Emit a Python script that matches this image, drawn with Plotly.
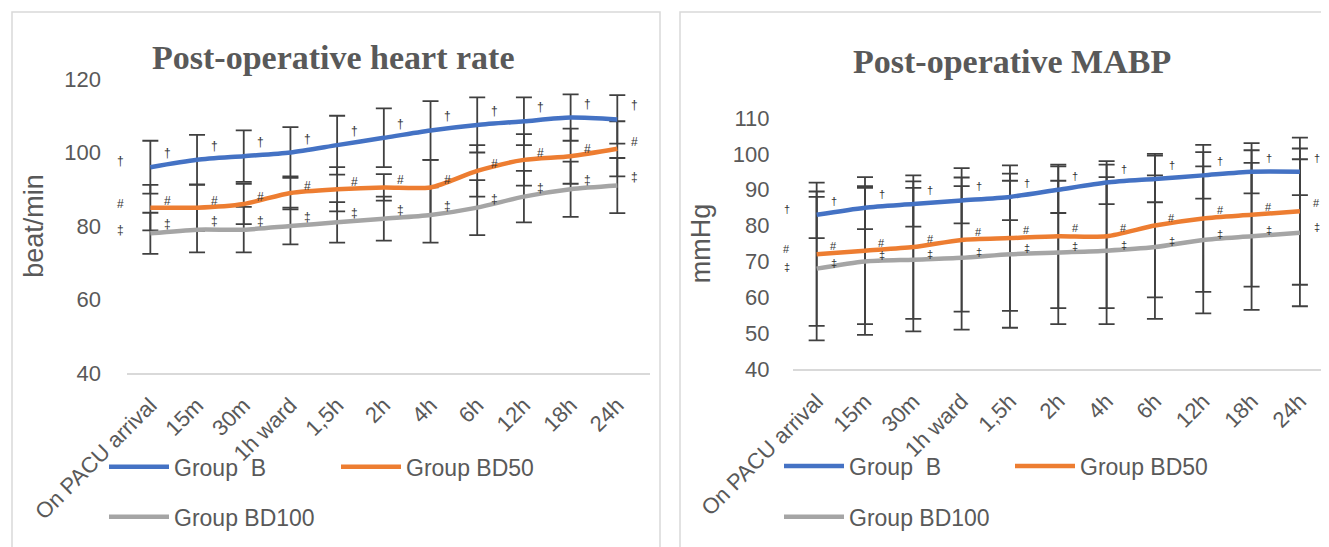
import plotly.graph_objects as go

categories = ["On PACU arrival", "15m", "30m", "1h ward", "1,5h", "2h", "4h", "6h", "12h", "18h", "24h"]

# Post-operative heart rate (beat/min): mean and SD
hr_b = [96, 98, 99, 100, 102, 104, 106, 107.5, 108.5, 109.5, 109]
hr_b_sd = [7.2, 6.8, 7.0, 6.9, 8.0, 8.0, 8.0, 7.5, 6.5, 6.3, 6.6]
hr_bd50 = [85, 85, 86, 89, 90, 90.5, 90.5, 95, 98, 99, 101]
hr_bd50_sd = [6.2, 6.3, 5.5, 4.5, 6.0, 3.6, 7.5, 7.0, 7.0, 7.5, 7.5]
hr_bd100 = [78, 79, 79, 80, 81, 82, 83, 85, 88, 90, 91]
hr_bd100_sd = [5.6, 6.2, 6.2, 5.0, 5.5, 6.0, 7.5, 7.5, 7.0, 7.5, 7.5]

# Post-operative MABP (mmHg): mean and SD
map_b = [83, 85, 86, 87, 88, 90, 92, 93, 94, 95, 95]
map_b_sd = [6.5, 6.0, 6.3, 6.4, 6.5, 6.5, 6.0, 6.5, 6.5, 6.0, 6.5]
map_bd50 = [72, 73, 74, 76, 76.5, 77, 77, 80, 82, 83, 84]
map_bd50_sd = [20, 20.5, 20, 20, 20.3, 20, 20, 20, 20.5, 20, 20.5]
map_bd100 = [68, 70, 70.5, 71, 72, 72.5, 73, 74, 76, 77, 78]
map_bd100_sd = [20, 20.5, 20, 20, 20.5, 20, 20.5, 20, 20.5, 20.5, 20.5]

group_names = ["Group\u00a0 B", "Group BD50", "Group BD100"]
group_colors = ["#4472C4", "#ED7D31", "#A5A5A5"]
sig_marks = ["\u2020", "#", "\u2021"]

TXT = "#595959"
AXF = "Liberation Sans, Arial, sans-serif"
SERIF = "Liberation Serif, Times New Roman, serif"

# page body has an 8px margin: figure sized to fit the window
OFF = 8
W, H = 1329 - OFF, 547 - OFF


def fx(x):
    return (x - OFF) / W


def fy(y):
    return (H - (y - OFF)) / H


fig = go.Figure()

panels = [
    ("x", "y", [hr_b, hr_bd50, hr_bd100], [hr_b_sd, hr_bd50_sd, hr_bd100_sd],
     ["legend", "legend2", "legend3"], [14, 7, 9], [6, 4, 3], 12),
    ("x2", "y2", [map_b, map_bd50, map_bd100], [map_b_sd, map_bd50_sd, map_bd100_sd],
     ["legend4", "legend5", "legend6"], [14, 8, 6], [6, 5, 2], 11),
]

annotations = []
for xa, ya, series, sds, legs, yshifts, lead_shifts, msize in panels:
    # error bars first (below all lines)
    for vals, sd in zip(series, sds):
        fig.add_trace(go.Scatter(
            x=categories, y=vals, xaxis=xa, yaxis=ya, mode="markers",
            marker=dict(size=1, opacity=0), showlegend=False, hoverinfo="skip",
            error_y=dict(type="data", array=sd, visible=True, color="#404040", thickness=1.8, width=8),
        ))
    for vals, name, col, leg in zip(series, group_names, group_colors, legs):
        fig.add_trace(go.Scatter(
            x=categories, y=vals, xaxis=xa, yaxis=ya, mode="lines", name=name,
            line=dict(color=col, width=4.5, shape="spline", smoothing=0.7),
            legend=leg, showlegend=True,
        ))
    # significance symbols
    for vals, mk, ys, ls in zip(series, sig_marks, yshifts, lead_shifts):
        for c, v in zip(categories, vals):
            annotations.append(dict(x=c, y=v, xref=xa, yref=ya, text=mk, showarrow=False,
                                    xshift=17, yshift=ys, font=dict(size=msize, color="#333333", family=AXF)))
        annotations.append(dict(x=categories[0], y=vals[0], xref=xa, yref=ya, text=mk, showarrow=False,
                                xshift=-30, yshift=ls, font=dict(size=msize, color="#333333", family=AXF)))

annotations.append(dict(x=fx(333), y=fy(57), xref="paper", yref="paper", showarrow=False,
                        text="<b>Post-operative heart rate</b>", xanchor="center", yanchor="middle",
                        font=dict(family=SERIF, size=34, color=TXT)))
annotations.append(dict(x=fx(1012), y=fy(61), xref="paper", yref="paper", showarrow=False,
                        text="<b>Post-operative MABP</b>", xanchor="center", yanchor="middle",
                        font=dict(family=SERIF, size=34, color=TXT)))

axis_common = dict(showgrid=False, zeroline=False, automargin=False,
                   tickfont=dict(family=AXF, size=22, color=TXT))

fig.update_layout(
    width=W, height=H,
    margin=dict(l=0, r=0, t=0, b=0, autoexpand=False),
    paper_bgcolor="white", plot_bgcolor="white",
    showlegend=True,
    xaxis=dict(domain=[fx(127), fx(650)], anchor="y", type="category", range=[-0.5, 10.7],
               showline=True, linecolor="#D9D9D9", linewidth=1.5, tickangle=-45, ticks="",
               ticklabelstandoff=9, **axis_common),
    yaxis=dict(domain=[fy(373), fy(79)], anchor="x", range=[40, 120], dtick=20,
               showline=False, ticks="", ticklabelstandoff=25,
               title=dict(text="beat/min", font=dict(family=AXF, size=27, color=TXT), standoff=12),
               **axis_common),
    xaxis2=dict(domain=[fx(792.5), fx(1326)], anchor="y2", type="category", range=[-0.5, 10.54],
                showline=True, linecolor="#D9D9D9", linewidth=1.5, tickangle=-45, ticks="",
                ticklabelstandoff=9, **axis_common),
    yaxis2=dict(domain=[fy(369), fy(118)], anchor="x2", range=[40, 110], dtick=10,
                showline=False, ticks="", ticklabelstandoff=22,
                title=dict(text="mmHg", font=dict(family=AXF, size=27, color=TXT), standoff=14),
                **axis_common),
    annotations=annotations,
    shapes=[
        dict(type="rect", xref="paper", yref="paper", x0=fx(12), x1=fx(660), y0=-0.03, y1=fy(12),
             line=dict(color="#D9D9D9", width=1.5), fillcolor="rgba(0,0,0,0)", layer="below"),
        dict(type="rect", xref="paper", yref="paper", x0=fx(680), x1=1.02, y0=-0.03, y1=fy(12),
             line=dict(color="#D9D9D9", width=1.5), fillcolor="rgba(0,0,0,0)", layer="below"),
    ],
)

leg_font = dict(family=AXF, size=23, color=TXT)
leg_pos = {
    "legend": (104, 466.7), "legend2": (336, 466.7), "legend3": (104, 516.7),
    "legend4": (779, 466), "legend5": (1010, 466), "legend6": (779, 516.7),
}
for k, (px, py) in leg_pos.items():
    fig.update_layout({k: dict(x=fx(px), y=fy(py), xanchor="left", yanchor="middle",
                               xref="paper", yref="paper", orientation="h", font=leg_font,
                               bgcolor="rgba(0,0,0,0)", borderwidth=0, itemwidth=60)})

fig.write_html("out.html")
